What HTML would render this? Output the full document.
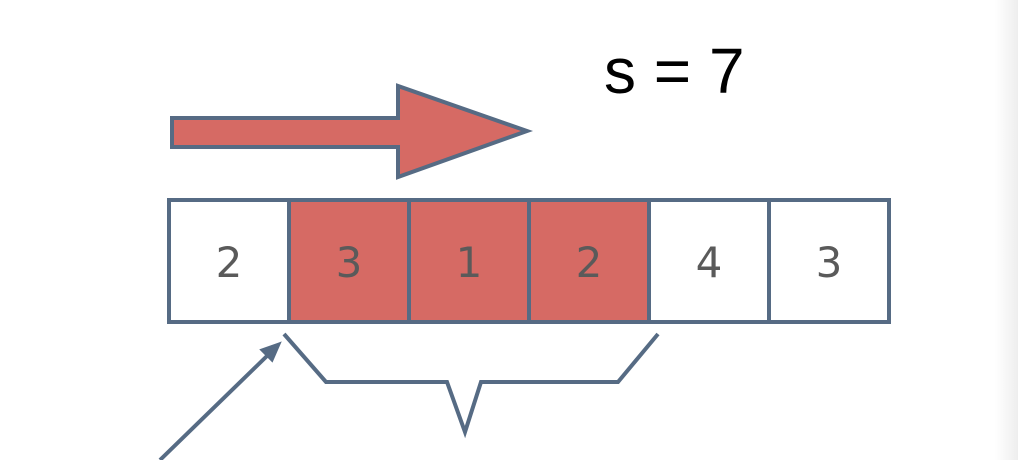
<!DOCTYPE html>
<html><head><meta charset="utf-8"><style>
html,body{margin:0;padding:0;background:#fff;}
svg{display:block;}
</style></head><body>
<svg width="1018" height="460" viewBox="0 0 1018 460" xmlns="http://www.w3.org/2000/svg">
<defs><linearGradient id="edge" x1="0" x2="1"><stop offset="0" stop-color="#fff"/><stop offset="1" stop-color="#eeeeee"/></linearGradient></defs>
<rect x="995" y="0" width="23" height="460" fill="url(#edge)"/>
<text x="604" y="93" font-family="Liberation Sans, sans-serif" font-size="64" fill="#000">s = 7</text>
<polygon points="172,118 398,118 398,86 527,131 398,177 398,147 172,147" fill="#d66a64" stroke="#566b84" stroke-width="4" stroke-linejoin="miter"/>
<g id="cells"></g>
<polyline points="284,334 326,382 447,382 465,432 481,382 618,382 658,334" fill="none" stroke="#566b84" stroke-width="4"/>
<line x1="160" y1="460" x2="268" y2="355" stroke="#566b84" stroke-width="4"/>
<polygon points="279,344 262,350 272,360" fill="#566b84" stroke="#566b84" stroke-width="3"/>
</svg>
<script>
const values=[2,3,1,2,4,3];
const inWindow=[false,true,true,true,false,false];
const g=document.getElementById('cells');
const ns='http://www.w3.org/2000/svg';
const x0=169,x1=889,y0=200,h=122;
const w=(x1-x0)/values.length;
values.forEach((v,i)=>{
  const r=document.createElementNS(ns,'rect');
  r.setAttribute('x',x0+i*w);r.setAttribute('y',y0);r.setAttribute('width',w);r.setAttribute('height',h);
  r.setAttribute('fill',inWindow[i]?'#d66a64':'#fff');r.setAttribute('stroke','#566b84');r.setAttribute('stroke-width','4');
  
  
  g.appendChild(r);
  const t=document.createElementNS(ns,'text');
  t.setAttribute('x',x0+i*w+w/2);t.setAttribute('y',y0+h/2+16);t.setAttribute('text-anchor','middle');
  t.setAttribute('font-family','DejaVu Sans, Liberation Sans, sans-serif');t.setAttribute('font-size','42');t.setAttribute('fill','#5a5a5a');
  t.textContent=v;
  
  
  g.appendChild(t);
});
</script>
</body></html>
